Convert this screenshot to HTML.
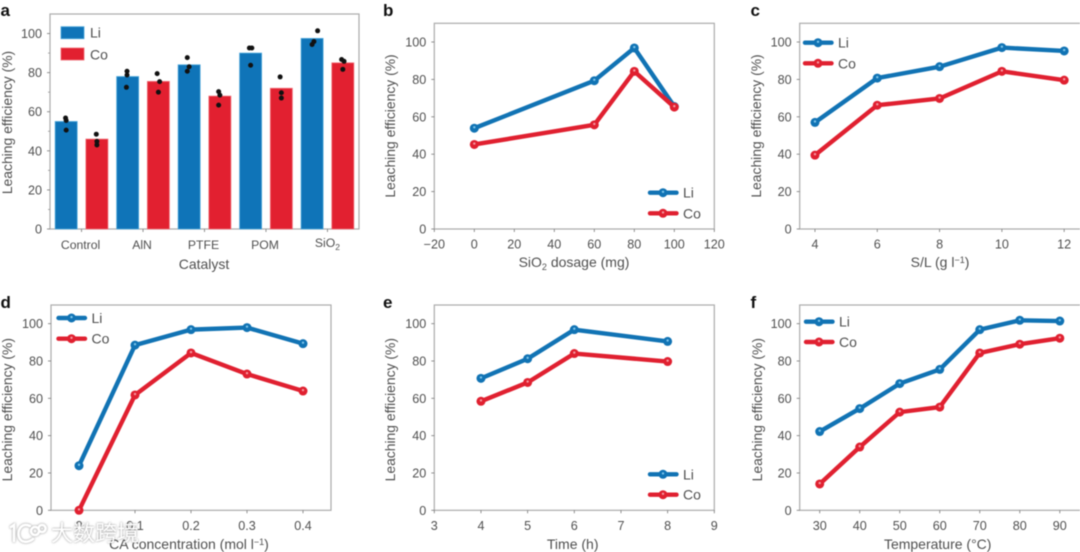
<!DOCTYPE html>
<html lang="en">
<head>
<meta charset="utf-8">
<title>Leaching efficiency panels</title>
<style>
html,body{margin:0;padding:0;background:#fff;width:1080px;height:552px;overflow:hidden}
svg{display:block;filter:blur(0.55px)}
text{font-family:"Liberation Sans","Noto Sans CJK SC",sans-serif;fill:#505050}
</style>
</head>
<body>
<svg id="figure" xmlns="http://www.w3.org/2000/svg" width="1080" height="552" viewBox="0 0 1080 552"></svg>
<script>
/* ---------- data ---------- */
const yTicks = [0, 20, 40, 60, 80, 100];
const yMinorTicksA = [10, 30, 50, 70, 90];

const catalystCategories = ['Control', 'AlN', 'PTFE', 'POM', 'SiO2'];
const catalystLi = [55, 78, 84, 90, 97.5];
const catalystCo = [46, 75.5, 68, 72, 85];
const catalystLiPoints = [[56.8, 55.5, 50.6], [80.7, 78.8, 72.5], [87.7, 83, 80.7], [92.6, 92.6, 83.8], [101.4, 95.9, 94.4]];
const catalystCoPoints = [[48.5, 44.8, 43], [79.5, 75.4, 70], [70.3, 68.5, 63.4], [77.8, 69.7, 67], [86.7, 85.8, 81.7]];
const catalystLiJitter = [[-0.01, 0, 0], [-0.01, -0.01, -0.02], [-0.03, 0, -0.03], [-0.02, 0.02, 0], [0.09, 0.03, 0]];
const catalystCoJitter = [[-0.01, 0, 0], [-0.02, 0.02, 0], [-0.02, 0, -0.02], [-0.02, 0, 0], [-0.02, 0.02, 0]];

const dosageX = [0, 60, 80, 100];
const dosageLi = [53.9, 79.3, 96.8, 65.5];
const dosageCo = [45.2, 55.7, 84.3, 65.2];
const dosageTicks = [-20, 0, 20, 40, 60, 80, 100, 120];

const ratioX = [4, 6, 8, 10, 12];
const ratioLi = [57, 80.7, 86.8, 97, 95.2];
const ratioCo = [39.5, 66.2, 69.8, 84.3, 79.6];
const ratioTicks = [4, 6, 8, 10, 12];

const concentrationX = [0, 0.1, 0.2, 0.3, 0.4];
const concentrationLi = [23.9, 88.5, 96.8, 97.9, 89.3];
const concentrationCo = [0, 61.8, 84.3, 73, 63.9];
const concentrationTicks = [0, 0.1, 0.2, 0.3, 0.4];

const timeX = [4, 5, 6, 8];
const timeLi = [70.7, 81.2, 96.8, 90.5];
const timeCo = [58.4, 68.5, 84, 79.7];
const timeTicks = [3, 4, 5, 6, 7, 8, 9];

const temperatureX = [30, 40, 50, 60, 70, 80, 90];
const temperatureLi = [42.2, 54.5, 67.9, 75.5, 96.8, 101.8, 101.4];
const temperatureCo = [14.1, 33.9, 52.6, 55.3, 84.3, 89, 92.2];
const temperatureTicks = [30, 40, 50, 60, 70, 80, 90];

/* ---------- helpers ---------- */
const NS = 'http://www.w3.org/2000/svg';
const figure = document.getElementById('figure');
const BLUE = '#1173b4', RED = '#e02030', BLUE_HI = '#7cc4ea', RED_HI = '#f49aa2', AXIS = '#ababab';

function mk(tag, props, parent) {
  const el = document.createElementNS(NS, tag);
  for (const k in props) el.setAttribute(k, props[k]);
  (parent || figure).appendChild(el);
  return el;
}
function scale(d0, d1, p0, p1) {
  return v => p0 + (v - d0) * (p1 - p0) / (d1 - d0);
}
function richText(el, parts) {
  parts.forEach(p => {
    const t = mk('tspan', p.dy ? {dy: p.dy, 'font-size': p.size} : {}, el);
    t.textContent = p.t;
  });
}

function drawFrame(g, p, y) {
  const frame = mk('rect', {x: p.left, y: p.top, width: p.right - p.left, height: p.bottom - p.top, fill: 'none', stroke: AXIS, 'stroke-width': 1.2}, g);
  
  

  yTicks.forEach(v => {
    const tick = mk('line', {x1: p.left - 3, x2: p.left, y1: y(v), y2: y(v), stroke: '#777', 'stroke-width': 0.8}, g);
    
    
    const label = mk('text', {x: p.left - 8, y: y(v) + 4.5, 'text-anchor': 'end', 'font-size': 12.6}, g);
    label.textContent = v;
    
    
  });

  const yt = mk('text', {x: 0, y: 0, 'text-anchor': 'middle', 'font-size': 13.9, transform: 'translate(' + p.yTitleX + ',' + p.yTitleY + ') rotate(-90)'}, g);
  yt.textContent = 'Leaching efficiency (%)';
  
  

  const xt = mk('text', {x: p.xTitleX, y: p.xTitleY, 'text-anchor': 'middle', 'font-size': 14}, g);
  richText(xt, p.xTitle);
  
  

  const letter = mk('text', {x: p.letterX, y: p.letterY, 'font-size': 17, 'font-weight': 'bold', style: 'fill:#111'}, g);
  letter.textContent = p.id;
  
  
}

function drawXTicks(g, p, x, ticks, fmt) {
  ticks.forEach(v => {
    const tick = mk('line', {x1: x(v), x2: x(v), y1: p.bottom, y2: p.bottom + 3, stroke: '#777', 'stroke-width': 0.8}, g);
    
    
    const label = mk('text', {x: x(v), y: p.bottom + 19.5, 'text-anchor': 'middle', 'font-size': 12.6}, g);
    label.textContent = fmt(v);
    
    
  });
}

function drawSeries(g, p, name, xs, ys, x, y, color, hi) {
  const pts = xs.map((v, i) => x(v) + ',' + y(ys[i])).join(' ');
  const line = mk('polyline', {points: pts, fill: 'none', stroke: color, 'stroke-width': 4.4, 'stroke-linejoin': 'round'}, g);
  
  
  xs.forEach((v, i) => {
    const dot = mk('circle', {cx: x(v), cy: y(ys[i]), r: 4.5, fill: color}, g);
    
    
    const glint = mk('circle', {cx: x(v), cy: y(ys[i]) - 0.9, r: 1.2, fill: hi}, g);
    
    
  });
}

function drawLineLegend(g, p) {
  [['Li', BLUE, BLUE_HI, p.legY[0]], ['Co', RED, RED_HI, p.legY[1]]].forEach(e => {
    const sw = mk('line', {x1: p.legX, x2: p.legX + 26.5, y1: e[3], y2: e[3], stroke: e[1], 'stroke-width': 4.4, 'stroke-linecap': 'round'}, g);
    
    
    const dot = mk('circle', {cx: p.legX + 13, cy: e[3], r: 4.5, fill: e[1]}, g);
    
    
    const glint = mk('circle', {cx: p.legX + 13, cy: e[3] - 0.9, r: 1.2, fill: e[2]}, g);
    
    
    const t = mk('text', {x: p.legX + 33, y: e[3] + 5, 'font-size': 14}, g);
    t.textContent = e[0];
    
    
  });
}

function linePanel(p, seriesX, li, co, ticks, fmt) {
  const g = mk('g', {});
  
  
  const x = scale(p.xMin, p.xMax, p.left, p.right);
  const y = scale(0, 110, p.bottom, p.top);
  drawFrame(g, p, y);
  drawXTicks(g, p, x, ticks, fmt);
  drawSeries(g, p, 'li', seriesX, li, x, y, BLUE, BLUE_HI);
  drawSeries(g, p, 'co', seriesX, co, x, y, RED, RED_HI);
  drawLineLegend(g, p);
}

/* ---------- panel a: bars ---------- */
(function () {
  const p = {id: 'a', left: 50, right: 359, top: 14, bottom: 229, yTitleX: 12, yTitleY: 122.5,
    xTitleX: 204, xTitleY: 269, letterX: 0.5, letterY: 16, xTitle: [{t: 'Catalyst'}]};
  const g = mk('g', {});
  
  
  const y = scale(0, 110, p.bottom, p.top);
  const x = scale(0, catalystCategories.length, 50.8, 358.2);
  drawFrame(g, p, y);

  yMinorTicksA.forEach(v => {
    const tick = mk('line', {x1: p.left - 2, x2: p.left, y1: y(v), y2: y(v), stroke: '#888', 'stroke-width': 0.7}, g);
    
    
  });

  function drawBars(values, points, jitter, offset, color, edge, name) {
    values.forEach((v, i) => {
      const cx = x(i + 0.5 + offset);
      const bar = mk('rect', {x: cx - 11, y: y(v), width: 22, height: p.bottom - y(v), fill: color, stroke: edge, 'stroke-width': 0.8}, g);
      
      
    });
    values.forEach((v, i) => {
      points[i].forEach((pv, j) => {
        const dot = mk('circle', {cx: x(i + 0.5 + offset + jitter[i][j]), cy: y(pv), r: 2.5, fill: '#111'}, g);
        
        
      });
    });
  }
  drawBars(catalystLi, catalystLiPoints, catalystLiJitter, -0.25, '#0f74b8', '#4aa6da', 'li');
  drawBars(catalystCo, catalystCoPoints, catalystCoJitter, 0.25, '#e22030', '#ef6a74', 'co');

  catalystCategories.forEach((c, i) => {
    const cx = x(i + 0.5);
    const tick = mk('line', {x1: cx, x2: cx, y1: p.bottom, y2: p.bottom + 3, stroke: '#777', 'stroke-width': 0.8}, g);
    
    
    const t = mk('text', {x: cx - (i === 4 ? 0 : 1), y: i === 4 ? 247 : 249, 'text-anchor': 'middle', 'font-size': 12.2}, g);
    if (c === 'SiO2') richText(t, [{t: 'SiO'}, {t: '2', dy: 3, size: 8.5}]);
    else t.textContent = c;
    
    
  });

  [['Li', '#0f74b8', '#4aa6da', 26.7, 37.7], ['Co', '#e22030', '#ef6a74', 48, 59.3]].forEach(e => {
    const sw = mk('rect', {x: 61, y: e[3], width: 23, height: 12, fill: e[1], stroke: e[2], 'stroke-width': 0.8}, g);
    
    
    const t = mk('text', {x: 90, y: e[4], 'font-size': 14}, g);
    t.textContent = e[0];
    
    
  });
})();

/* ---------- panels b-f: lines ---------- */
linePanel({id: 'b', left: 434.3, right: 714.3, top: 23.3, bottom: 229, xMin: -20, xMax: 120,
  yTitleX: 395, yTitleY: 126, xTitleX: 574, xTitleY: 267, letterX: 383, letterY: 16,
  xTitle: [{t: 'SiO'}, {t: '2', dy: 3, size: 9}, {t: ' dosage (mg)', dy: -3, size: 14}],
  legX: 650, legY: [192.7, 213.3]}, dosageX, dosageLi, dosageCo, dosageTicks, v => (v < 0 ? '\u2212' + (-v) : v));

linePanel({id: 'c', left: 799.7, right: 1081, top: 23.3, bottom: 229, xMin: 3.51, xMax: 12.54,
  yTitleX: 761, yTitleY: 126, xTitleX: 940, xTitleY: 267, letterX: 750.5, letterY: 16,
  xTitle: [{t: 'S/L (g l'}, {t: '\u22121', dy: -4, size: 9}, {t: ')', dy: 4, size: 14}],
  legX: 805, legY: [42.7, 63.3]}, ratioX, ratioLi, ratioCo, ratioTicks, v => v);

linePanel({id: 'd', left: 51, right: 331, top: 305, bottom: 510.3, xMin: -0.05, xMax: 0.45,
  yTitleX: 12, yTitleY: 409.7, xTitleX: 189, xTitleY: 549, letterX: 0.5, letterY: 308,
  xTitle: [{t: 'CA concentration (mol l'}, {t: '\u22121', dy: -4, size: 9}, {t: ')', dy: 4, size: 14}],
  legX: 58.5, legY: [318, 338.7]}, concentrationX, concentrationLi, concentrationCo, concentrationTicks, v => v);

linePanel({id: 'e', left: 434.3, right: 714.3, top: 305, bottom: 510.3, xMin: 3, xMax: 9,
  yTitleX: 395, yTitleY: 409.7, xTitleX: 572.7, xTitleY: 549, letterX: 383, letterY: 308,
  xTitle: [{t: 'Time (h)'}],
  legX: 650, legY: [474.3, 494.7]}, timeX, timeLi, timeCo, timeTicks, v => v);

linePanel({id: 'f', left: 799.7, right: 1081, top: 305, bottom: 510.3, xMin: 25, xMax: 95.3,
  yTitleX: 762, yTitleY: 409.7, xTitleX: 937.7, xTitleY: 549, letterX: 750.5, letterY: 308,
  xTitle: [{t: 'Temperature (\u00b0C)'}],
  legX: 806, legY: [321.7, 342]}, temperatureX, temperatureLi, temperatureCo, temperatureTicks, v => v);

/* ---------- watermark ---------- */
const wm = mk('g', {style: 'filter:drop-shadow(0 0 1px rgba(95,95,95,0.75))'});


const wmLogo = mk('path', {d: 'M11 527 L14 525 L14 541 M30 526 C21 522 17 531 19 537 C21 543 28 543 33 539 M35 527 a4 4 0 1 0 0.1 0 M42 525 a3.5 3.5 0 1 0 0.1 0', fill: 'none', stroke: '#fff', 'stroke-width': 2.6, 'stroke-linecap': 'round'}, wm);


const wmText = mk('text', {x: 51, y: 541, 'font-size': 22, style: 'fill:#fff'}, wm);
wmText.textContent = '大数跨境';


</script>
</body>
</html>
